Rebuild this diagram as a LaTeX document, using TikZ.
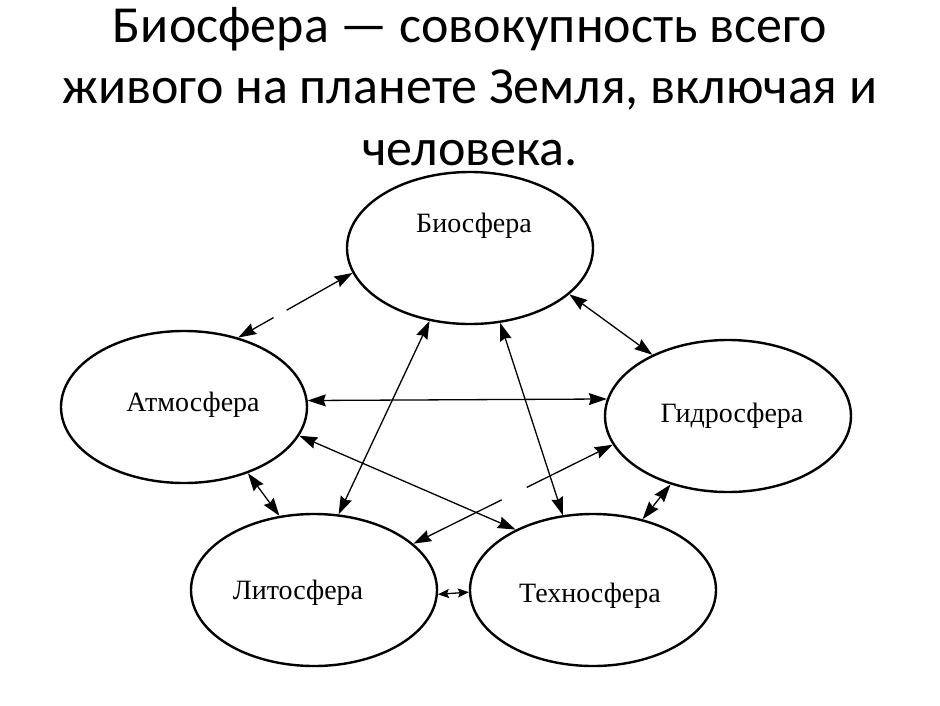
\documentclass[tikz,border=0pt]{standalone}
\usepackage{fontspec}
\setmainfont{Carlito}
\newfontfamily\lblfont{Liberation Serif}
\usetikzlibrary{arrows.meta,shapes.geometric}
\begin{document}
\begin{tikzpicture}[x=1pt,y=-1pt,
  sphere/.style={draw,line width=2.4pt,ellipse,minimum width=246pt,minimum height=152pt,inner sep=0pt},
  lbl/.style={font=\lblfont\fontsize{28}{30}\selectfont,anchor=base,inner sep=0pt},
  link/.style={line width=1.3pt,{Stealth[length=18pt,width=12pt,inset=2pt]}-{Stealth[length=18pt,width=12pt,inset=2pt]}},
  shortlink/.style={line width=1.3pt,{Stealth[length=11pt,width=9pt,inset=2pt]}-{Stealth[length=11pt,width=9pt,inset=2pt]}},
]
\useasboundingbox[fill=white] (0,0) rectangle (940,705);

\node[align=center,font=\fontsize{52}{61.5}\selectfont,anchor=base,inner sep=0pt] (title) at (470,165)
  {Биосфера — совокупность всего\\живого на планете Земля, включая и\\человека.};

\node[sphere] (bio)   at (470,248) {};
\node[sphere] (atmo)  at (184,407) {};
\node[sphere] (hydro) at (728,416) {};
\node[sphere] (litho) at (314,590) {};
\node[sphere] (techno) at (593,590) {};

\node[lbl] (lbio)   at (474,232) {Биосфера};
\node[lbl] (latmo)  at (193,411) {Атмосфера};
\node[lbl] (lhydro) at (732,422) {Гидросфера};
\node[lbl] (llitho) at (298,599) {Литосфера};
\node[lbl] (ltechno) at (590,602) {Техносфера};

\draw[link,dash pattern=on 60pt off 15pt on 400pt] (bio.192) -- (atmo.52.9);
\draw[link] (bio.335) -- (hydro.141.7);
\draw[link] (bio.241.4) -- (litho.72.7);
\draw[link] (bio.292.7) -- (techno.112.3);
\draw[link] (atmo.3.3) -- (hydro.172.4);
\draw[link] (atmo.346.4) -- (techno.142.2);
\draw[link] (atmo.314.2) -- (litho.115.7);
\draw[link,dash pattern=on 83pt off 28pt on 400pt] (litho.25.4) -- (hydro.194);
\draw[link] (hydro.230.8) -- (techno.55);
\draw[shortlink] (litho.358.6) -- (techno.181.4);
\end{tikzpicture}
\end{document}
